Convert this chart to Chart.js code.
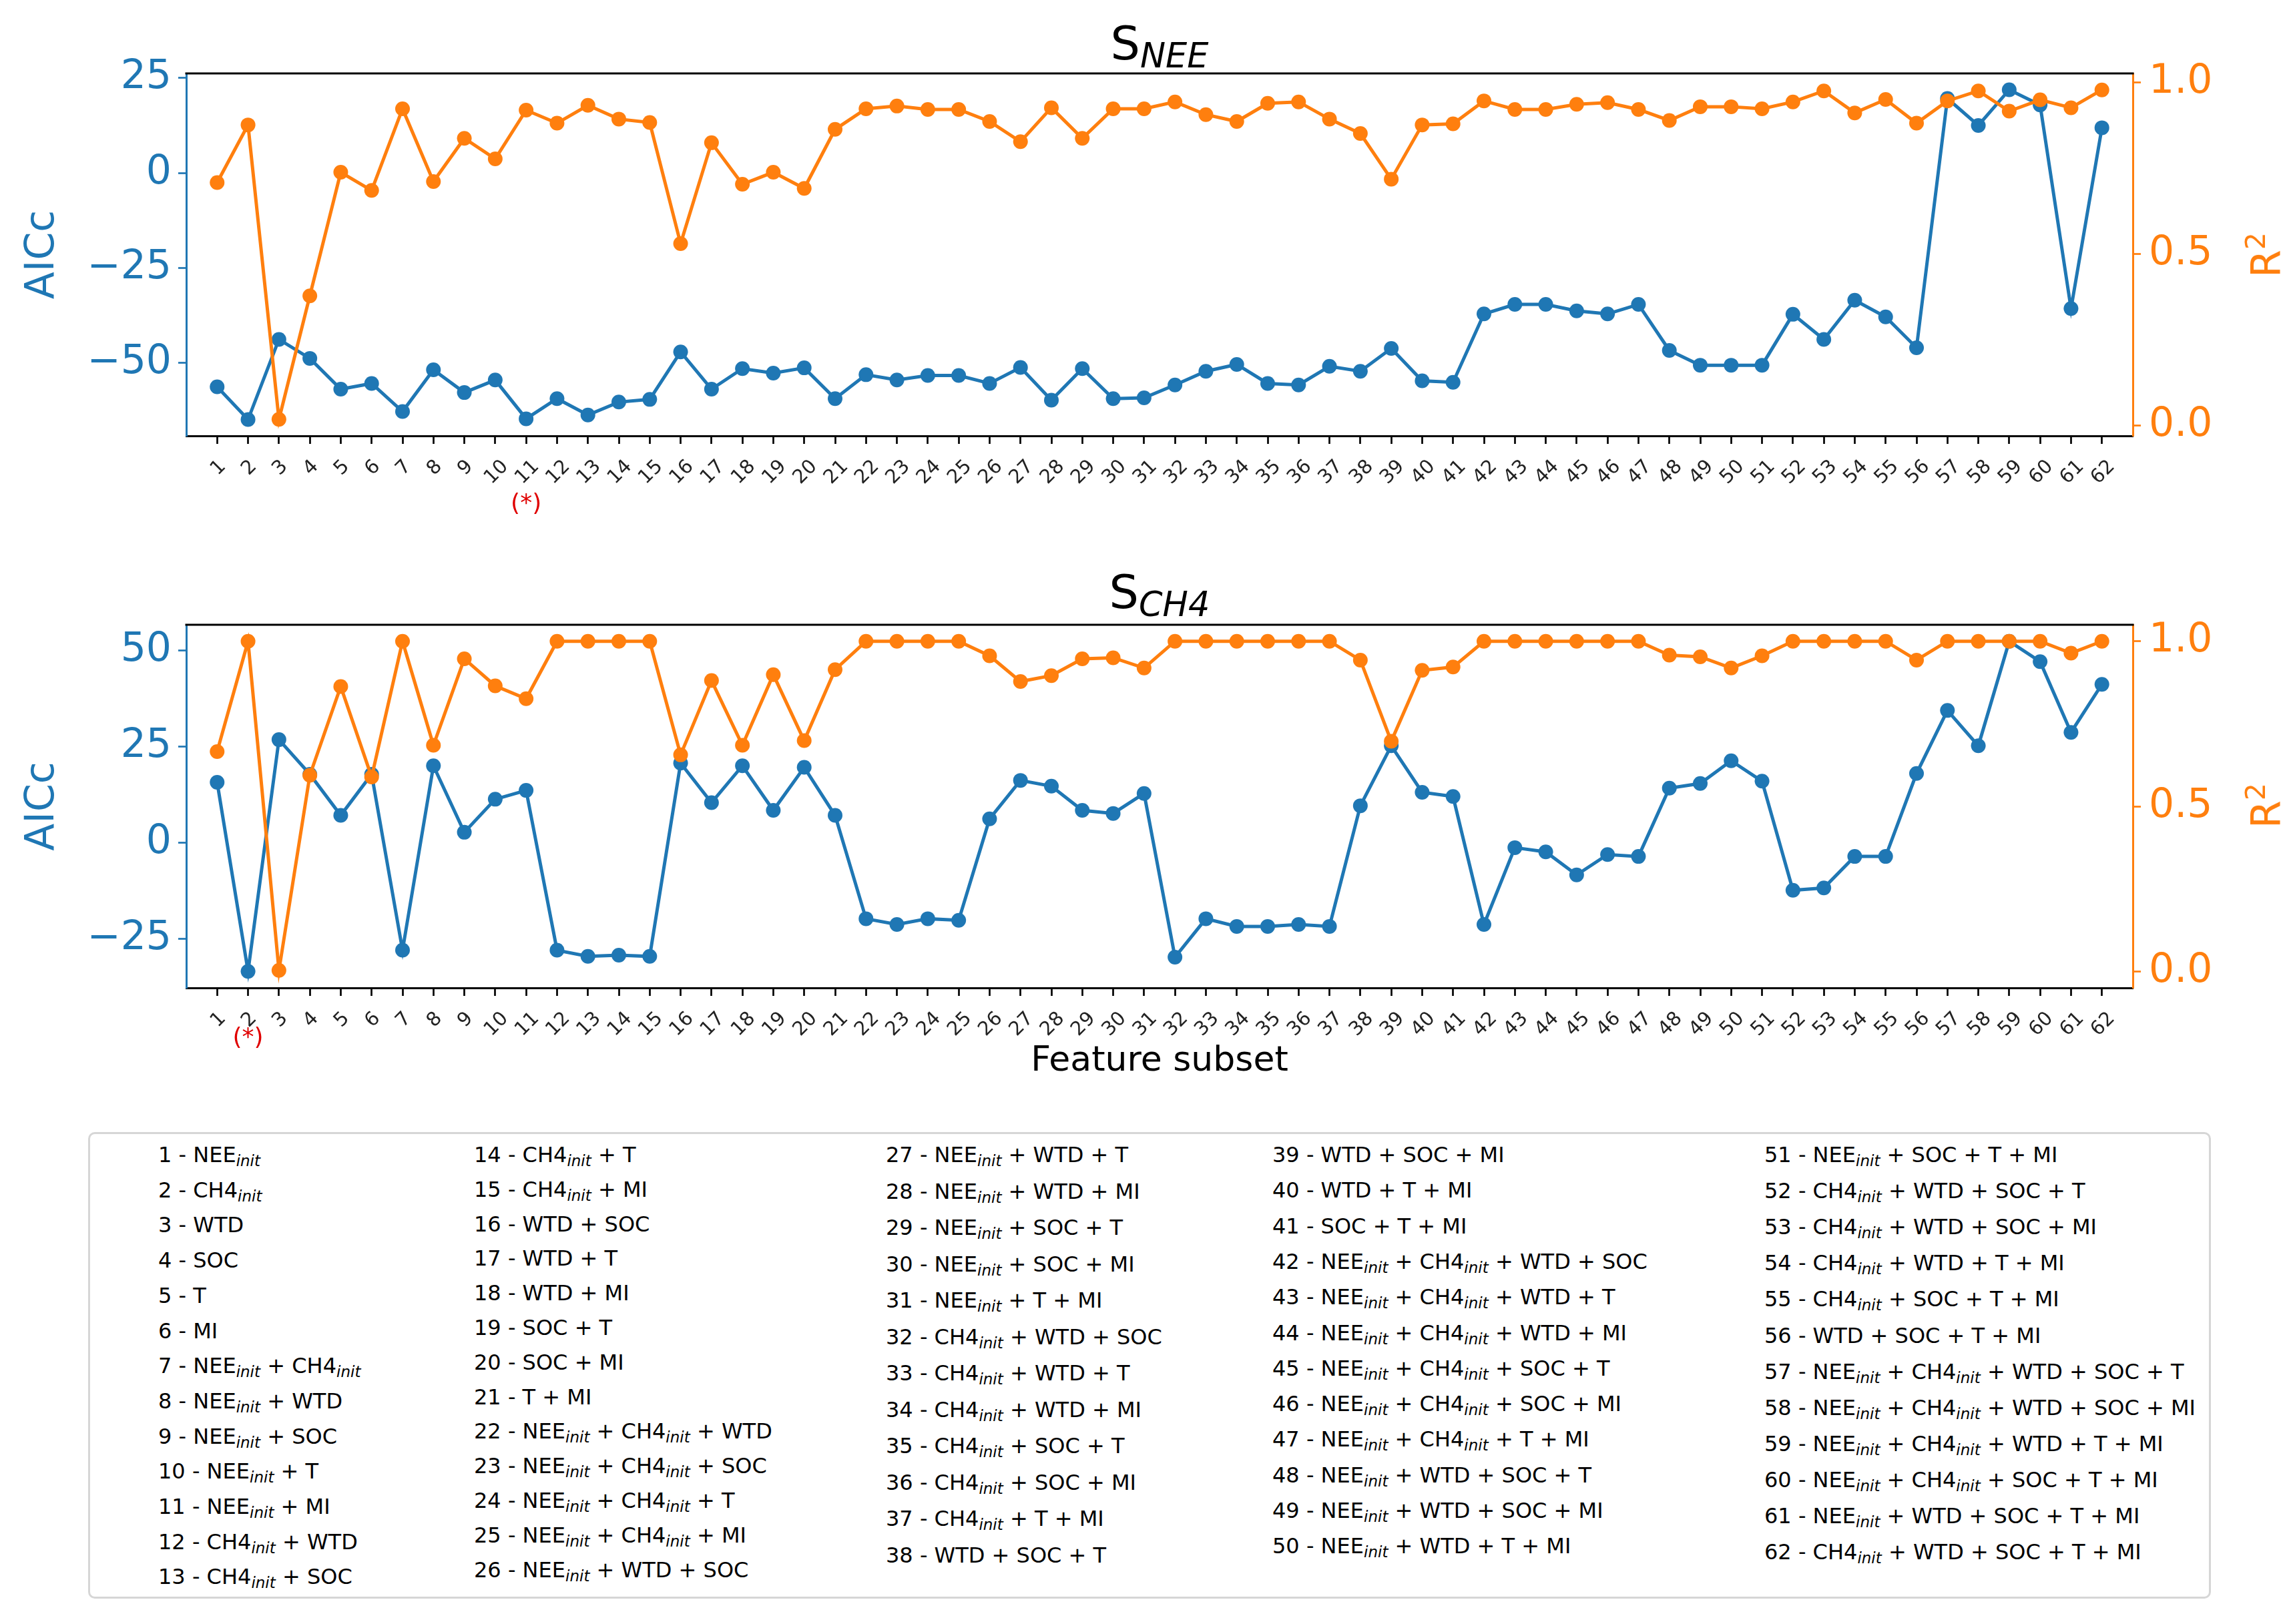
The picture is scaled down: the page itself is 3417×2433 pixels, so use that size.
<!DOCTYPE html>
<html>
<head>
<meta charset="utf-8">
<script src="https://cdn.jsdelivr.net/npm/chart.js@4/dist/chart.umd.min.js"></script>
<style>
  body { margin: 0; background: #fff; font-family: "DejaVu Sans", sans-serif; }
  #page { position: relative; width: 3417px; height: 2433px; overflow: hidden; background: #fff; }
  .box { position: absolute; left: 0; width: 3417px; }
  .title { position: absolute; left: 279px; width: 2916px; text-align: center; font-size: 70px; line-height: 1; color: #000; }
  .title sub { font-size: 51px; font-style: italic; vertical-align: -12px; line-height: 0; }
  .r2 { position: absolute; font-size: 60px; color: #ff7f0e; transform: translate(-50%, -50%) rotate(-90deg); white-space: nowrap; line-height: 1; }
  .r2 sup { font-size: 41px; line-height: 0; vertical-align: 23px; }
  #legend { position: absolute; left: 132px; top: 1696px; width: 3174px; height: 693px; border: 3px solid #d6d6d6; border-radius: 10px; }
  .item { position: absolute; font-size: 32px; line-height: 32px; white-space: nowrap; color: #000; }
  .item sub { font-size: 0.72em; font-style: italic; vertical-align: -0.28em; line-height: 0; }
</style>
</head>
<body>
<div id="page">
  <div class="title" style="top:30px">S<sub>NEE</sub></div>
  <div class="box" style="top:0; height:800px"><canvas id="neeChart"></canvas></div>
  <div class="r2" style="left:3395px; top:382px">R<sup>2</sup></div>

  <div class="title" style="top:852px">S<sub>CH4</sub></div>
  <div class="box" style="top:826px; height:820px"><canvas id="ch4Chart"></canvas></div>
  <div class="r2" style="left:3395px; top:1207px">R<sup>2</sup></div>

  <div id="legend"></div>
</div>
<script>
// feature subsets 1..62
const subsetIds = Array.from({ length: 62 }, (_, i) => i + 1);

const subsetNames = [
  'NEE_init', 'CH4_init', 'WTD', 'SOC', 'T', 'MI',
  'NEE_init + CH4_init', 'NEE_init + WTD', 'NEE_init + SOC', 'NEE_init + T', 'NEE_init + MI',
  'CH4_init + WTD', 'CH4_init + SOC', 'CH4_init + T', 'CH4_init + MI',
  'WTD + SOC', 'WTD + T', 'WTD + MI', 'SOC + T', 'SOC + MI', 'T + MI',
  'NEE_init + CH4_init + WTD', 'NEE_init + CH4_init + SOC', 'NEE_init + CH4_init + T', 'NEE_init + CH4_init + MI',
  'NEE_init + WTD + SOC', 'NEE_init + WTD + T', 'NEE_init + WTD + MI', 'NEE_init + SOC + T', 'NEE_init + SOC + MI', 'NEE_init + T + MI',
  'CH4_init + WTD + SOC', 'CH4_init + WTD + T', 'CH4_init + WTD + MI', 'CH4_init + SOC + T', 'CH4_init + SOC + MI', 'CH4_init + T + MI',
  'WTD + SOC + T', 'WTD + SOC + MI', 'WTD + T + MI', 'SOC + T + MI',
  'NEE_init + CH4_init + WTD + SOC', 'NEE_init + CH4_init + WTD + T', 'NEE_init + CH4_init + WTD + MI',
  'NEE_init + CH4_init + SOC + T', 'NEE_init + CH4_init + SOC + MI', 'NEE_init + CH4_init + T + MI',
  'NEE_init + WTD + SOC + T', 'NEE_init + WTD + SOC + MI', 'NEE_init + WTD + T + MI', 'NEE_init + SOC + T + MI',
  'CH4_init + WTD + SOC + T', 'CH4_init + WTD + SOC + MI', 'CH4_init + WTD + T + MI', 'CH4_init + SOC + T + MI',
  'WTD + SOC + T + MI',
  'NEE_init + CH4_init + WTD + SOC + T', 'NEE_init + CH4_init + WTD + SOC + MI', 'NEE_init + CH4_init + WTD + T + MI',
  'NEE_init + CH4_init + SOC + T + MI', 'NEE_init + WTD + SOC + T + MI',
  'CH4_init + WTD + SOC + T + MI'
];

// S_NEE panel
const aiccNee = [
  -56.3, -64.9, -43.8, -48.8, -56.9, -55.4, -62.8, -51.8, -57.8, -54.5,
  -64.7, -59.4, -63.7, -60.3, -59.6, -47.1, -56.9, -51.5, -52.7, -51.3,
  -59.4, -53.1, -54.5, -53.3, -53.3, -55.4, -51.2, -59.8, -51.5, -59.4,
  -59.2, -55.8, -52.2, -50.4, -55.4, -55.8, -50.9, -52.2, -46.2, -54.7,
  -55.1, -37.1, -34.6, -34.6, -36.3, -37.1, -34.6, -46.7, -50.6, -50.6,
  -50.6, -37.2, -43.8, -33.5, -37.9, -46.0, 19.6, 12.5, 21.9, 17.9,
  -35.7, 11.9
];
const r2Nee = [
  0.708, 0.876, 0.018, 0.378, 0.738, 0.685, 0.923, 0.711, 0.837, 0.777,
  0.919, 0.881, 0.933, 0.893, 0.883, 0.530, 0.824, 0.703, 0.738, 0.691,
  0.863, 0.923, 0.931, 0.921, 0.921, 0.886, 0.827, 0.926, 0.837, 0.923,
  0.923, 0.943, 0.906, 0.886, 0.939, 0.943, 0.893, 0.851, 0.718, 0.876,
  0.879, 0.946, 0.921, 0.921, 0.936, 0.941, 0.921, 0.889, 0.929, 0.929,
  0.923, 0.943, 0.975, 0.911, 0.950, 0.881, 0.946, 0.975, 0.916, 0.949,
  0.926, 0.978
];

// S_CH4 panel
const aiccCh4 = [
  15.7, -33.5, 26.8, 17.8, 7.1, 17.8, -28.0, 20.0, 2.7, 11.3,
  13.6, -28.0, -29.6, -29.3, -29.6, 20.7, 10.4, 20.0, 8.4, 19.6,
  7.1, -19.8, -21.3, -19.8, -20.2, 6.2, 16.2, 14.7, 8.4, 7.6,
  12.8, -29.8, -19.8, -21.8, -21.8, -21.3, -21.8, 9.6, 25.2, 13.1,
  12.0, -21.3, -1.3, -2.4, -8.4, -3.1, -3.6, 14.2, 15.4, 21.3,
  16.0, -12.4, -11.8, -3.6, -3.6, 18.0, 34.4, 25.2, 52.4, 47.1,
  28.7, 41.2
];
const r2Ch4 = [
  0.666, 1.0, 0.003, 0.594, 0.863, 0.589, 1.0, 0.685, 0.947, 0.865,
  0.826, 1.0, 1.0, 1.0, 1.0, 0.656, 0.881, 0.685, 0.899, 0.699,
  0.914, 1.0, 1.0, 1.0, 1.0, 0.956, 0.878, 0.896, 0.947, 0.950,
  0.919, 1.0, 1.0, 1.0, 1.0, 1.0, 1.0, 0.943, 0.697, 0.912,
  0.922, 1.0, 1.0, 1.0, 1.0, 1.0, 1.0, 0.958, 0.953, 0.919,
  0.956, 1.0, 1.0, 1.0, 1.0, 0.943, 1.0, 1.0, 1.0, 1.0,
  0.964, 1.0
];

// tick labels
const aiccTicksNee = [-50, -25, 0, 25];
const aiccTicksCh4 = [-25, 0, 25, 50];
const r2Ticks = [0, 0.5, 1];

const BLUE = '#1f77b4';
const ORANGE = '#ff7f0e';
const XTICK_SIZE = 29;
Chart.defaults.font.family = '"DejaVu Sans", sans-serif';

// top black spine, centred 45deg x labels, red "(*)" under the selected subset
const extras = {
  id: 'extras',
  afterDraw(chart, args, opts) {
    const { ctx, chartArea: a } = chart;
    const x = chart.scales.x;
    ctx.save();
    ctx.strokeStyle = '#000';
    ctx.lineWidth = 3;
    ctx.beginPath();
    ctx.moveTo(a.left - 1.5, a.top);
    ctx.lineTo(a.right + 1.5, a.top);
    ctx.stroke();

    ctx.font = XTICK_SIZE + 'px "DejaVu Sans"';
    ctx.fillStyle = '#222';
    ctx.textAlign = 'center';
    ctx.textBaseline = 'alphabetic';
    x.ticks.forEach(t => {
      const label = String(t.value);
      const w = ctx.measureText(label).width;
      const half = (w + XTICK_SIZE * 0.75) / (2 * Math.SQRT2);
      ctx.save();
      ctx.translate(x.getPixelForValue(t.value), a.bottom + 32 + half);
      ctx.rotate(-Math.PI / 4);
      ctx.fillText(label, 0, XTICK_SIZE * 0.36);
      ctx.restore();
    });

    ctx.fillStyle = '#e00000';
    ctx.font = '36px "DejaVu Sans"';
    ctx.textBaseline = 'middle';
    ctx.fillText('(*)', x.getPixelForValue(opts.star), a.bottom + opts.gap);
    ctx.restore();
  }
};

const pts = (vals) => vals.map((v, i) => ({ x: subsetIds[i], y: v }));
const minus = (v) => String(v).replace('-', '\u2212');

function makeChart(id, aicc, r2, aiccTicks, yLim, r2Lim, opt) {
  const ctx = document.getElementById(id).getContext('2d');
  return new Chart(ctx, {
    type: 'line',
    data: {
      datasets: [{
        label: 'R2',
        data: pts(r2),
        yAxisID: 'y1',
        borderColor: ORANGE,
        backgroundColor: ORANGE,
        borderWidth: 5,
        pointRadius: 11,
        pointBorderWidth: 0,
        tension: 0,
        order: 0
      }, {
        label: 'AICc',
        data: pts(aicc),
        yAxisID: 'y',
        borderColor: BLUE,
        backgroundColor: BLUE,
        borderWidth: 5,
        pointRadius: 11,
        pointBorderWidth: 0,
        tension: 0,
        order: 1
      }]
    },
    options: {
      responsive: true,
      maintainAspectRatio: false,
      animation: false,
      events: [],
      layout: { padding: { top: 110, left: 28, right: 0, bottom: opt.padBottom } },
      plugins: {
        legend: { display: false },
        tooltip: { enabled: false },
        extras: { star: opt.star, gap: opt.gap }
      },
      scales: {
        x: {
          type: 'linear',
          min: 0,
          max: 63,
          afterBuildTicks: (s) => { s.ticks = subsetIds.map(v => ({ value: v })); },
          afterFit: (s) => { s.height = opt.xHeight; },
          grid: { drawOnChartArea: false, drawTicks: true, tickLength: 12, tickColor: '#000', tickWidth: 2.7 },
          border: { display: true, color: '#000', width: 3 },
          ticks: { display: false, autoSkip: false },
          title: {
            display: !!opt.xTitle,
            text: opt.xTitle || '',
            color: '#000',
            font: { size: 52 },
            padding: 0
          }
        },
        y: {
          position: 'left',
          min: yLim[0],
          max: yLim[1],
          afterBuildTicks: (s) => { s.ticks = aiccTicks.map(v => ({ value: v })); },
          afterFit: (s) => { s.width = 251; },
          grid: { drawOnChartArea: false, drawTicks: true, tickLength: 12, tickColor: BLUE, tickWidth: 2.7 },
          border: { display: true, color: BLUE, width: 3 },
          ticks: { color: BLUE, font: { size: 60 }, padding: 10, callback: minus },
          title: { display: true, text: 'AICc', color: BLUE, font: { size: 60 }, padding: 0 }
        },
        y1: {
          position: 'right',
          min: r2Lim[0],
          max: r2Lim[1],
          afterBuildTicks: (s) => { s.ticks = r2Ticks.map(v => ({ value: v })); },
          afterFit: (s) => { s.width = 222; },
          grid: { drawOnChartArea: false, drawTicks: true, tickLength: 12, tickColor: ORANGE, tickWidth: 2.7 },
          border: { display: true, color: ORANGE, width: 3 },
          ticks: { color: ORANGE, font: { size: 60 }, padding: 12, callback: (v) => Number(v).toFixed(1) }
        }
      }
    },
    plugins: [extras]
  });
}

makeChart('neeChart', aiccNee, r2Nee, aiccTicksNee, [-69.2, 26.2], [-0.03, 1.026],
  { star: 11, gap: 103, xHeight: 147, padBottom: 0 });
makeChart('ch4Chart', aiccCh4, r2Ch4, aiccTicksCh4, [-37.8, 56.7], [-0.05, 1.05],
  { star: 2, gap: 76, xHeight: 142, padBottom: 24, xTitle: 'Feature subset' });

// legend box: five columns of numbered subsets
const legend = document.getElementById('legend');
const colStarts = [0, 13, 26, 38, 50, 62];
const colX = [102, 575, 1192, 1771, 2508];
const colStep = [52.7, 51.8, 54.5, 53.3, 54.1];
const firstRowY = 31;
colX.forEach((x, c) => {
  for (let i = colStarts[c]; i < colStarts[c + 1]; i++) {
    const row = i - colStarts[c];
    const el = document.createElement('div');
    el.className = 'item';
    el.style.left = x + 'px';
    el.style.top = (firstRowY + row * colStep[c] - 16) + 'px';
    el.innerHTML = subsetIds[i] + ' - ' + subsetNames[i].replace(/_init/g, '<sub>init</sub>');
    legend.appendChild(el);
  }
});
</script>
</body>
</html>
